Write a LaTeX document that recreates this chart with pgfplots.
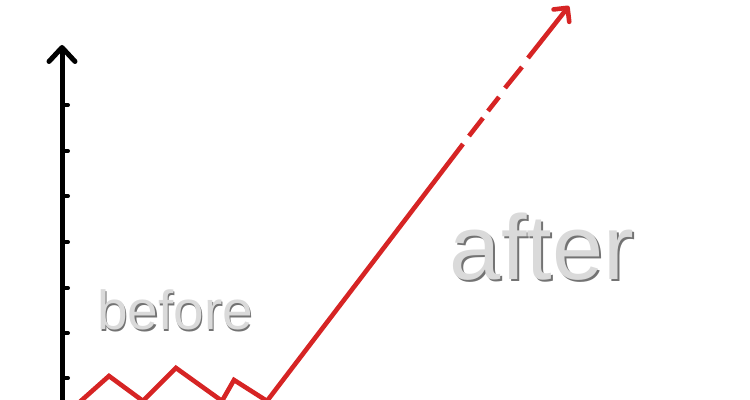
\documentclass[border=0pt]{standalone}
\usepackage{pgfplots}
\pgfplotsset{compat=1.18}
\usepackage{fontspec}
\setmainfont{Liberation Sans}
\usetikzlibrary{arrows.meta}
\definecolor{chartred}{RGB}{214,36,36}
\definecolor{txtfill}{RGB}{218,218,218}
\definecolor{txtshadow}{RGB}{115,115,115}
\begin{document}
\begin{tikzpicture}
\begin{axis}[
  hide axis, scale only axis,
  width=375pt, height=200pt,
  xmin=0, xmax=750, ymin=0, ymax=400,
  clip=true,
]
% vertical axis
\addplot[black, line width=2.5pt, -{Straight Barb[length=7pt,width=13pt,line cap=round,round]}]
  coordinates {(62,-10) (62,355)};
% tick dots
\addplot[only marks, black, mark=-, mark size=1.5pt, mark options={line width=2pt, line cap=round}]
  coordinates {(65,295) (65,249) (65,204) (65,158) (65,112) (65,67) (65,22)};
% before: zig-zag and solid rise
\addplot[chartred, line width=2.3pt, line join=miter]
  coordinates {(73,-8) (109,24) (143,-1) (176,32) (222,-1) (234,20) (267,-1) (463,256)};
% dashes
\addplot[chartred, line width=2.3pt] coordinates {(469,264) (483,282)};
\addplot[chartred, line width=2.3pt] coordinates {(488,289) (499,303)};
\addplot[chartred, line width=2.3pt] coordinates {(505,312) (522,333)};
\addplot[chartred, line width=2.3pt, -{Straight Barb[length=5pt,width=10pt,round]}]
  coordinates {(528,342) (569,394)};
% labels
\node[anchor=base, text=txtshadow, font=\fontsize{27.5}{30}\selectfont] at (axis cs:176.5,68.5) {before};
\node[anchor=base, text=txtfill, font=\fontsize{27.5}{30}\selectfont] at (axis cs:175,70) {before};
\node[anchor=base, text=txtshadow, font=\fontsize{46}{50}\selectfont] at (axis cs:544,118.5) {after};
\node[anchor=base, text=txtfill, font=\fontsize{46}{50}\selectfont] at (axis cs:542,120) {after};
\coordinate (sw) at (axis cs:0,0);
\coordinate (ne) at (axis cs:750,400);
\end{axis}
\pgfresetboundingbox
\path[use as bounding box] (sw) rectangle (ne);
\end{tikzpicture}
\end{document}
